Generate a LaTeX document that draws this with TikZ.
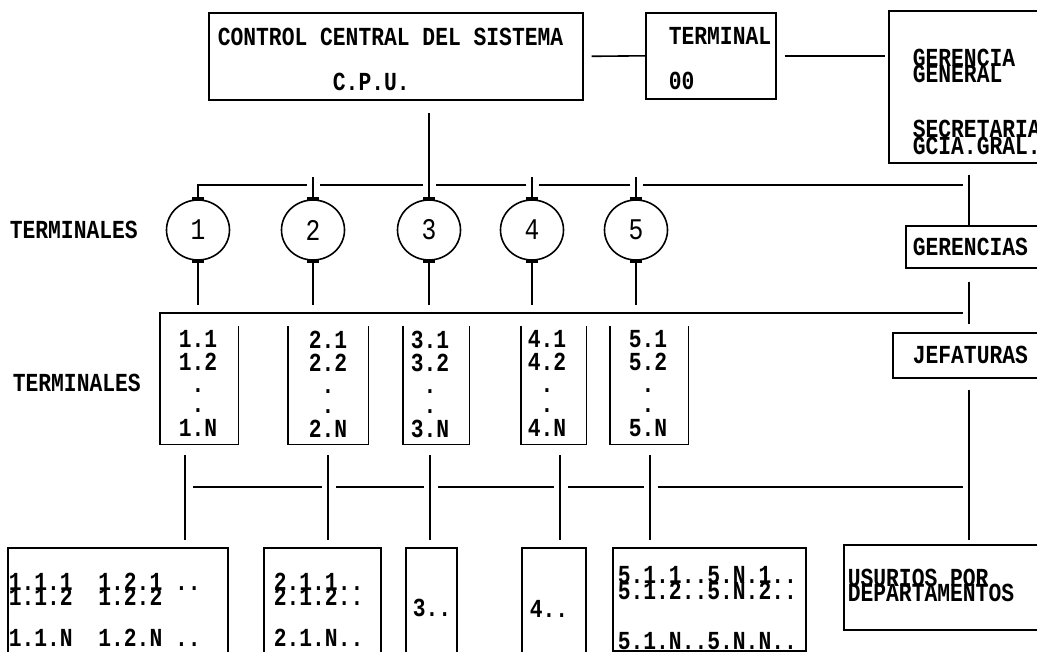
\documentclass[tikz,border=0pt]{standalone}
\usepackage{fontspec}
\newfontfamily\teletipo[FakeStretch=0.82]{Liberation Mono}
\usetikzlibrary{shapes.geometric}
\newcommand{\blanco}{\hphantom{0}}
\newcommand{\renglon}{\lineskiplimit=-100pt\lineskip=0pt\frenchspacing}

\begin{document}
\begin{tikzpicture}[x=1pt, y=-1pt, line width=1.6pt,
    caja/.style={draw, rectangle, inner sep=0pt, anchor=north west},
    hueco/.style={rectangle, inner sep=0pt, anchor=north west},
    letra/.style={font=\teletipo\bfseries\fontsize{26}{15}\selectfont\renglon, align=left, inner sep=0pt, anchor=north west},
    term/.style={draw, ellipse, minimum width=63pt, minimum height=60pt, inner sep=0pt, font=\teletipo\fontsize{30}{15}\selectfont},
    marca/.style={line width=3.5pt}]

    % marco fijo de la hoja
    \useasboundingbox (0,0) rectangle (1037,652);
    \clip (0,0) rectangle (1037,652);

    % alturas de los buses y eje de la columna derecha
    \def\yBusA{185}
    \def\yBusB{313}
    \def\yBusC{487}
    \def\xEje{969}

    % 1. nivel superior: CPU, terminal 00 y gerencia general
    \node[caja, minimum width=374pt, minimum height=87pt] (cpu) at (208,12) {};
    \node[letra] (cpuT) at ([shift={(9,15)}]cpu.north west) {CONTROL CENTRAL DEL SISTEMA\\[30pt]\hphantom{CONTROL C}C.P.U.};
    \node[caja, minimum width=130pt, minimum height=86pt] (trm) at (645,12) {};
    \node[letra] (trmT) at ([shift={(23,15)}]trm.north west) {TERMINAL\\[30pt]00};
    \node[caja, minimum width=170pt, minimum height=152pt] (gg) at (888,10) {};
    \node[letra] (ggT) at ([shift={(24,38)}]gg.north west) {GERENCIA\\[1.5pt]GENERAL\\[40pt]SECRETARIA\\[1.5pt]GCIA.GRAL.};
    \draw ([xshift=8pt]cpu.east) -- (trm.west);
    \draw ([xshift=8pt]trm.east) -- ([xshift=-3pt]gg.west |- trm.east);

    % 2. primer nivel de terminales (circulos)
    \node[letra, anchor=west] (et1) at (9,230) {TERMINALES};
    \foreach \i/\x in {1/198, 2/313, 3/429, 4/532, 5/636}
        \node[term] (t\i) at (\x,230) {\i};
    \foreach \i in {1,...,5} {
        \draw[marca] ([xshift=-6pt]t\i.north) -- ([xshift=6pt]t\i.north);
        \draw[marca] ([xshift=-6pt]t\i.south) -- ([xshift=6pt]t\i.south);
    }

    % bus superior, con sus cortes
    \coordinate (eje) at (\xEje,\yBusA);
    \foreach \i in {1,...,5}
        \coordinate (a\i) at (t\i.north |- eje);
    \draw (t1.north) -- (a1) -- ([xshift=-6pt]a2);
    \draw (a3) ++(0,-72) -- (t3.north);
    \foreach \i in {2,4,5}
        \draw (a\i) ++(0,-8) -- (t\i.north);
    \foreach \a/\b in {2/3, 3/4, 4/5}
        \draw ([xshift=7pt]a\a) -- ([xshift=-6pt]a\b);
    \draw ([xshift=7pt]a5) -- ([xshift=-6pt]eje);
    \foreach \i in {1,...,5}
        \draw (t\i.south) -- ++(0,44);

    % 3. segundo nivel de terminales (cajas abiertas)
    \node[letra, anchor=west] (et2) at (12,383) {TERMINALES};
    \foreach \i/\x/\w/\dx in {1/160/77/18, 2/288/79/20, 3/403/65/7, 4/521/64/6, 5/610/77/18} {
        \node[hueco, minimum width=\w pt, minimum height=117pt] (b\i) at (\x,326) {};
        \draw (b\i.north west) -- (b\i.south west) -- (b\i.south east) -- (b\i.north east);
        \node[letra] (bt\i) at ([shift={(\dx,4)}]b\i.north west) {\i.1\\[8pt]\i.2\\[7pt]\blanco.\\[5pt]\blanco.\\[9pt]\i.N};
    }
    \coordinate (lineaB) at (\xEje,\yBusB);
    \draw (b1.north west) -- ([shift={(0,-13)}]b1.north west) -- ([xshift=-6pt]lineaB);

    % columna derecha: gerencias y jefaturas
    \node[caja, minimum width=150pt, minimum height=42pt] (ger) at (905,225) {};
    \node[letra, anchor=west] (gerT) at ([xshift=7pt]ger.west) {GERENCIAS};
    \node[caja, minimum width=160pt, minimum height=45pt] (jef) at (892,332) {};
    \node[letra, anchor=west] (jefT) at ([xshift=20pt]jef.west) {JEFATURAS};
    \draw (gg.south -| eje) ++(0,11) -- (ger.north -| eje);
    \draw (ger.south -| eje) ++(0,13) -- ++(0,42);

    % 4. bus inferior
    \foreach \i/\x in {1/185, 2/328, 3/430, 4/560, 5/650}
        \coordinate (j\i) at (\x,\yBusC);
    \coordinate (j6) at (\xEje,\yBusC);
    \foreach \i in {1,...,5}
        \draw (j\i) ++(0,-32) -- ++(0,85);
    \draw (jef.south -| j6) ++(0,11) -- ([shift={(0,53)}]j6);
    \foreach \a/\b in {1/2, 2/3, 3/4, 4/5, 5/6}
        \draw ([xshift=8pt]j\a) -- ([xshift=-6pt]j\b);

    % 5. usuarios de cada terminal
    \node[caja, minimum width=220pt, minimum height=125pt] (u1) at (7,547) {};
    \node[letra] (ut1) at ([shift={(1,25)}]u1.north west) {1.1.1\blanco\blanco1.2.1\blanco..\\[0pt]1.1.2\blanco\blanco1.2.2\\[26pt]1.1.N\blanco\blanco1.2.N\blanco..};
    \node[caja, minimum width=117pt, minimum height=125pt] (u2) at (263,547) {};
    \node[letra] (ut2) at ([shift={(10,25)}]u2.north west) {2.1.1..\\[0pt]2.1.2..\\[26pt]2.1.N..};
    \node[caja, minimum width=51pt, minimum height=125pt] (u3) at (405,547) {};
    \node[letra] (ut3) at ([shift={(7,51)}]u3.north west) {3..};
    \node[caja, minimum width=64pt, minimum height=125pt] (u4) at (521,547) {};
    \node[letra] (ut4) at ([shift={(8,53)}]u4.north west) {4..};
    \node[caja, minimum width=193pt, minimum height=103pt] (u5) at (612,547) {};
    \node[letra] (ut5) at ([shift={(5,19)}]u5.north west) {5.1.1..5.N.1..\\[0.5pt]5.1.2..5.N.2..\\[35pt]5.1.N..5.N.N..};
    \node[caja, minimum width=210pt, minimum height=85pt] (usr) at (843,544) {};
    \node[letra] (usrT) at ([shift={(4,24)}]usr.north west) {USURIOS POR\\[0.5pt]DEPARTAMENTOS};

\end{tikzpicture}
\end{document}
